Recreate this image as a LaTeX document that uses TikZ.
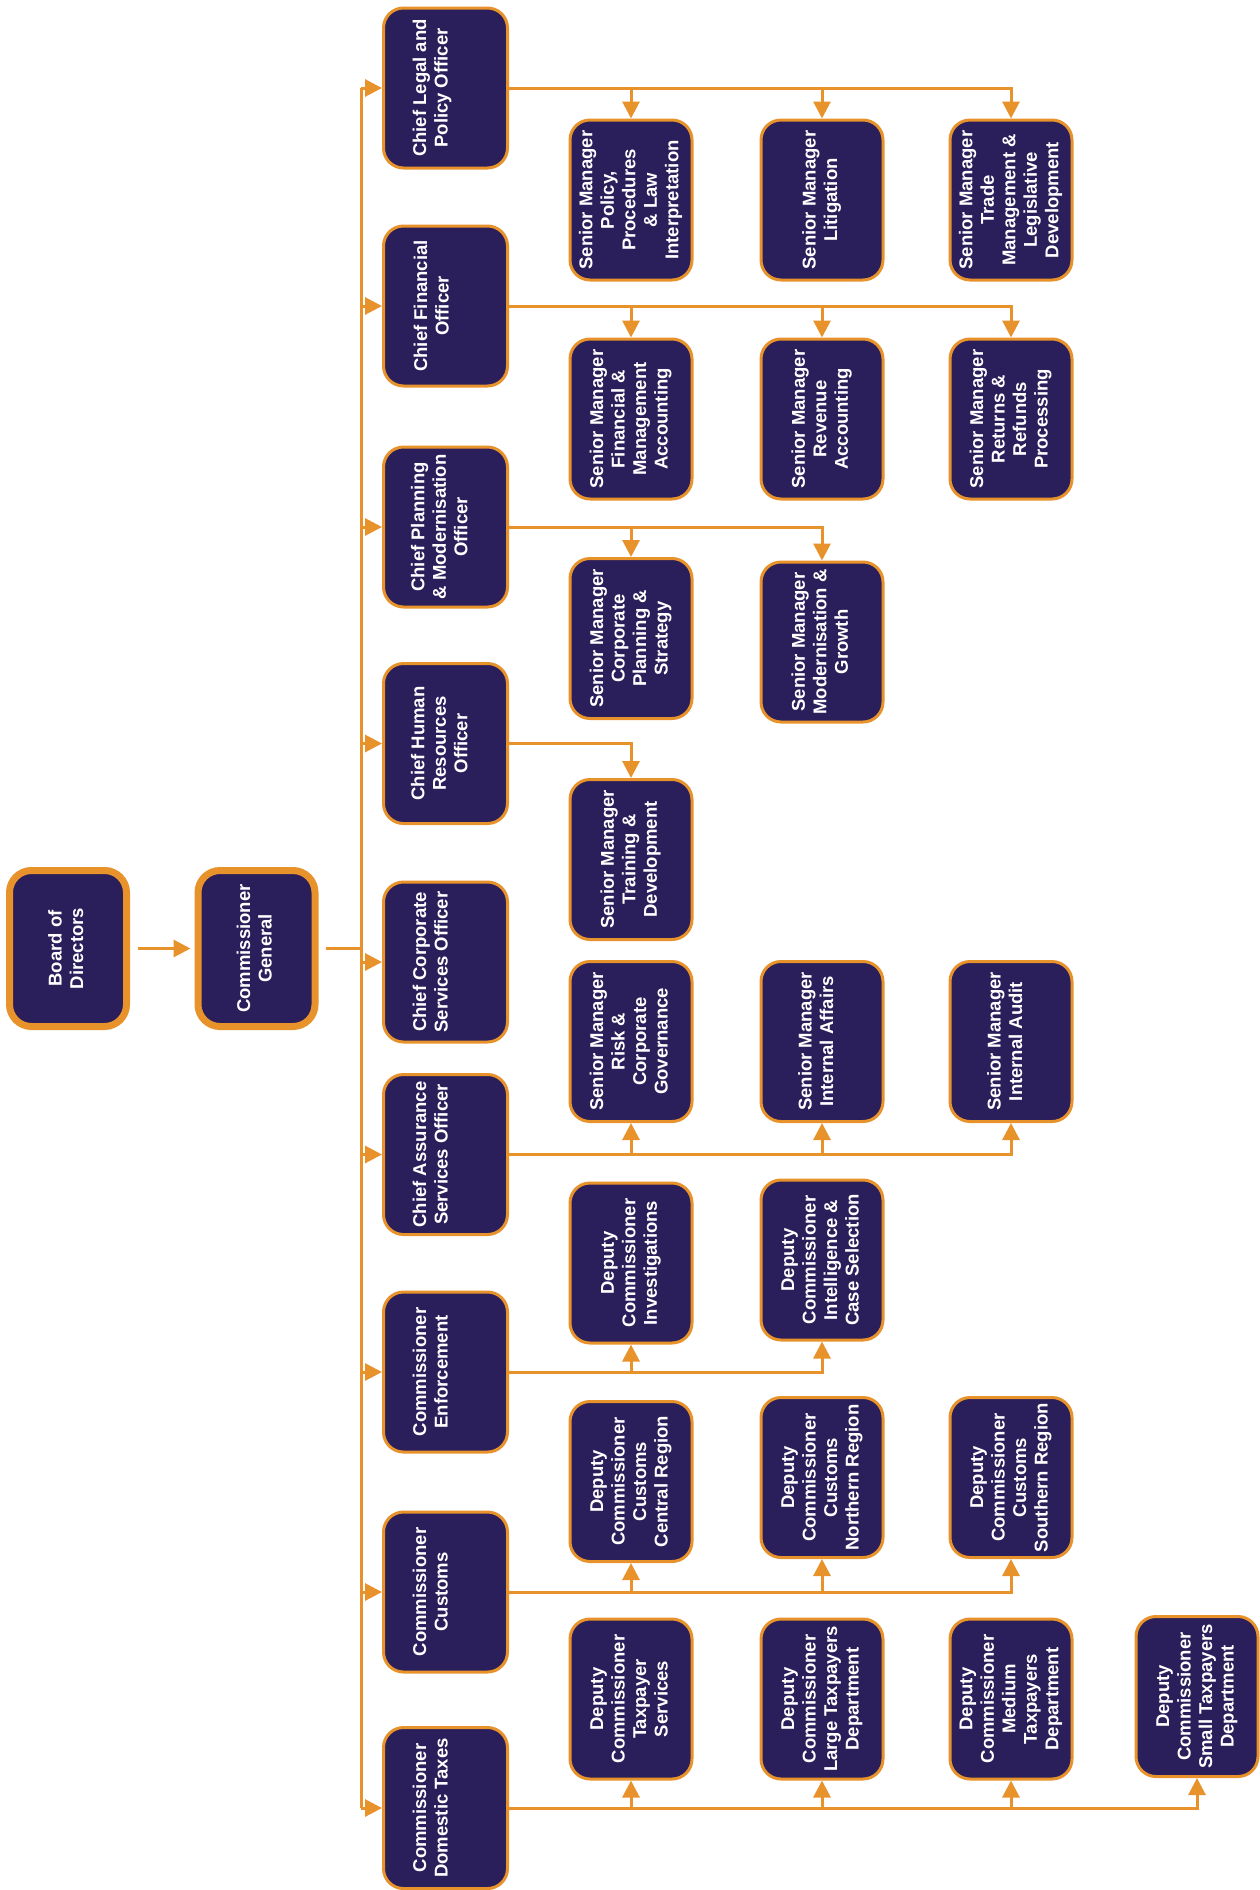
\documentclass[tikz,border=0pt]{standalone}
\usepackage{fontspec}
\setmainfont{Liberation Sans}
\usetikzlibrary{arrows.meta}
\definecolor{boxfill}{HTML}{2A1F5A}
\definecolor{orng}{HTML}{E8922B}
% optional argument: extra space at the right, which moves the text to the left by half of it
\newcommand{\rt}[2][0pt]{\rotatebox{90}{\begin{tabular}{@{}c@{}}#2\end{tabular}}\hspace*{#1}}
\tikzset{
 orgbox/.style={draw=orng, fill=boxfill, line width=3pt, rounded corners=20pt,
   minimum width=124pt, minimum height=160pt, inner sep=0pt, text=white,
   font=\bfseries\fontsize{18.5}{21.5}\selectfont},
 subbox/.style={orgbox, minimum width=122pt},
 topbox/.style={orgbox, line width=7pt, minimum width=117pt, minimum height=156pt, rounded corners=22pt},
 conn/.style={draw=orng, line width=3pt},
 arr/.style={conn, -{Triangle[length=17pt,width=17pt]}},
}
\begin{document}
\begin{tikzpicture}[x=1pt,y=-1pt]
\useasboundingbox[fill=white] (0,0) rectangle (1260,1890);
% top level
\node[topbox] (board) at (68,948.5) {\rt{Board of\\Directors}};
\node[topbox] (cg) at (256.5,948.5) {\rt{Commissioner\\General}};
% chiefs
\node[orgbox] (legal) at (445.5,88) {\rt[26pt]{Chief Legal and\\Policy Officer}};
\node[orgbox] (fin) at (445.5,306) {\rt[24pt]{Chief Financial\\Officer}};
\node[orgbox] (plan) at (445.5,527) {\rt[8pt]{Chief Planning\\\& Modernisation\\Officer}};
\node[orgbox] (hr) at (445.5,743.5) {\rt[8pt]{Chief Human\\Resources\\Officer}};
\node[orgbox] (corp) at (445.5,962) {\rt[26pt]{Chief Corporate\\Services Officer}};
\node[orgbox] (assur) at (445.5,1154.5) {\rt[26pt]{Chief Assurance\\Services Officer}};
\node[orgbox] (enf) at (445.5,1372) {\rt[26pt]{Commissioner\\Enforcement}};
\node[orgbox] (cust) at (445.5,1592) {\rt[26pt]{Commissioner\\Customs}};
\node[orgbox, minimum height=161pt] (dom) at (445.5,1808) {\rt[26pt]{Commissioner\\Domestic Taxes}};
% row 1
\node[subbox] (l1) at (631,200) {\rt{Senior Manager\\Policy,\\Procedures\\\& Law\\Interpretation}};
\node[subbox] (l2) at (822,200) {\rt{Senior Manager\\Litigation}};
\node[subbox] (l3) at (1011,200) {\rt{Senior Manager\\Trade\\Management \&\\Legislative\\Development}};
% row 2
\node[subbox] (f1) at (631,419) {\rt{Senior Manager\\Financial \&\\Management\\Accounting}};
\node[subbox] (f2) at (822,419) {\rt{Senior Manager\\Revenue\\Accounting}};
\node[subbox] (f3) at (1011,419) {\rt{Senior Manager\\Returns \&\\Refunds\\Processing}};
% row 3
\node[subbox] (p1) at (631,638.5) {\rt{Senior Manager\\Corporate\\Planning \&\\Strategy}};
\node[subbox] (p2) at (822,642) {\rt{Senior Manager\\Modernisation \&\\Growth}};
% row 4
\node[subbox] (h1) at (631,859.5) {\rt{Senior Manager\\Training \&\\Development}};
% row 5
\node[subbox] (a1) at (631,1041.5) {\rt{Senior Manager\\Risk \&\\Corporate\\Governance}};
\node[subbox] (a2) at (822,1041.5) {\rt[8pt]{Senior Manager\\Internal Affairs}};
\node[subbox] (a3) at (1011,1041.5) {\rt[8pt]{Senior Manager\\Internal Audit}};
% row 6
\node[subbox] (e1) at (631,1263) {\rt{Deputy\\Commissioner\\Investigations}};
\node[subbox] (e2) at (822,1260) {\rt{Deputy\\Commissioner\\Intelligence \&\\Case Selection}};
% row 7
\node[subbox] (c1) at (631,1481.5) {\rt{Deputy\\Commissioner\\Customs\\Central Region}};
\node[subbox] (c2) at (822,1477.5) {\rt{Deputy\\Commissioner\\Customs\\Northern Region}};
\node[subbox] (c3) at (1011,1477.5) {\rt{Deputy\\Commissioner\\Customs\\Southern Region}};
% row 8
\node[subbox] (d1) at (631,1699) {\rt{Deputy\\Commissioner\\Taxpayer\\Services}};
\node[subbox] (d2) at (822,1699) {\rt{Deputy\\Commissioner\\Large Taxpayers\\Department}};
\node[subbox] (d3) at (1011,1699) {\rt{Deputy\\Commissioner\\Medium\\Taxpayers\\Department}};
\node[subbox] (d4) at (1197,1696.5) {\rt{Deputy\\Commissioner\\Small Taxpayers\\Department}};
% top connectors
\coordinate (tr) at (361,0);
\draw[arr, shorten <=7.5pt, shorten >=4pt] (board.east) -- (cg.west);
\draw[conn, shorten <=7pt] (cg.east) -- (cg.east -| tr);
\draw[conn] (legal.west -| tr) -- (dom.west -| tr);
\foreach \n in {legal,fin,plan,hr,corp,assur,enf,cust,dom}
  \draw[arr] (\n.west -| tr) -- (\n.west);
% legal
\draw[arr] (legal.east) -| (l3.north);
\draw[arr] (legal.east -| l1.north) -- (l1.north);
\draw[arr] (legal.east -| l2.north) -- (l2.north);
% financial
\draw[arr] (fin.east) -| (f3.north);
\draw[arr] (fin.east -| f1.north) -- (f1.north);
\draw[arr] (fin.east -| f2.north) -- (f2.north);
% planning
\draw[arr] (plan.east) -| (p2.north);
\draw[arr] (plan.east -| p1.north) -- (p1.north);
% hr
\draw[arr] (hr.east) -| (h1.north);
% assurance
\draw[arr] (assur.east) -| (a3.south);
\draw[arr] (assur.east -| a1.south) -- (a1.south);
\draw[arr] (assur.east -| a2.south) -- (a2.south);
% enforcement
\draw[arr] (enf.east) -| (e2.south);
\draw[arr] (enf.east -| e1.south) -- (e1.south);
% customs
\draw[arr] (cust.east) -| (c3.south);
\draw[arr] (cust.east -| c1.south) -- (c1.south);
\draw[arr] (cust.east -| c2.south) -- (c2.south);
% domestic
\draw[arr] (dom.east) -| (d4.south);
\draw[arr] (dom.east -| d1.south) -- (d1.south);
\draw[arr] (dom.east -| d2.south) -- (d2.south);
\draw[arr] (dom.east -| d3.south) -- (d3.south);
\end{tikzpicture}
\end{document}
